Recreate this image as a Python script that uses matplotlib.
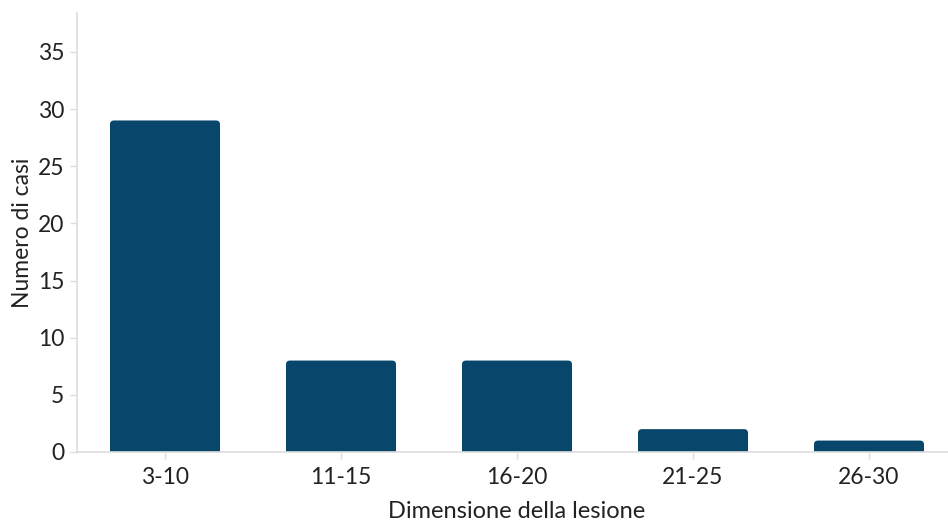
import matplotlib
matplotlib.use("Agg")
import matplotlib.pyplot as plt
from matplotlib.patches import FancyBboxPatch

categories = ["3-10", "11-15", "16-20", "21-25", "26-30"]
counts = [29, 8, 8, 2, 1]

bar_color = "#08466b"
text_color = "#222222"
grid_color = "#dddddd"

plt.rcParams["font.family"] = ["Lato", "DejaVu Sans"]

fig = plt.figure(figsize=(9.48, 5.22), dpi=100)
ax = fig.add_axes([77 / 948, 70 / 522, 880 / 948, 439 / 522])

width = 0.625
xs = list(range(len(categories)))
ymax = 38.4
ax.set_xlim(-0.5, len(categories) - 0.5)
ax.set_ylim(0, ymax)

# rounded bars: extend below the baseline so only the top corners show
px_per_x = 880 / len(categories)
px_per_y = 439 / ymax
radius_px = 4
rx = radius_px / px_per_x
aspect = px_per_x / px_per_y
for x, v in zip(xs, counts):
    p = FancyBboxPatch((x - width / 2, -2), width, v + 2,
                       boxstyle=f"round,pad=0,rounding_size={rx}",
                       mutation_aspect=aspect,
                       facecolor=bar_color, edgecolor="none", zorder=2)
    ax.add_patch(p)

ax.set_xticks(xs)
ax.set_xticklabels(categories)
ax.set_yticks(range(0, 40, 5))

for s in ["top", "right"]:
    ax.spines[s].set_visible(False)
for s in ["left", "bottom"]:
    ax.spines[s].set_color(grid_color)
    ax.spines[s].set_linewidth(1.2)

ax.tick_params(axis="both", colors=grid_color, labelcolor=text_color,
               labelsize=16.5, length=5, width=1)
ax.tick_params(axis="x", pad=6)
ax.tick_params(axis="y", pad=4)

ax.set_xlabel("Dimensione della lesione", fontsize=17, color=text_color, labelpad=9)
ax.set_ylabel("Numero di casi", fontsize=16.5, color=text_color)
ax.yaxis.set_label_coords(-0.05, 0.5)

fig.savefig("out.png", dpi=100)
